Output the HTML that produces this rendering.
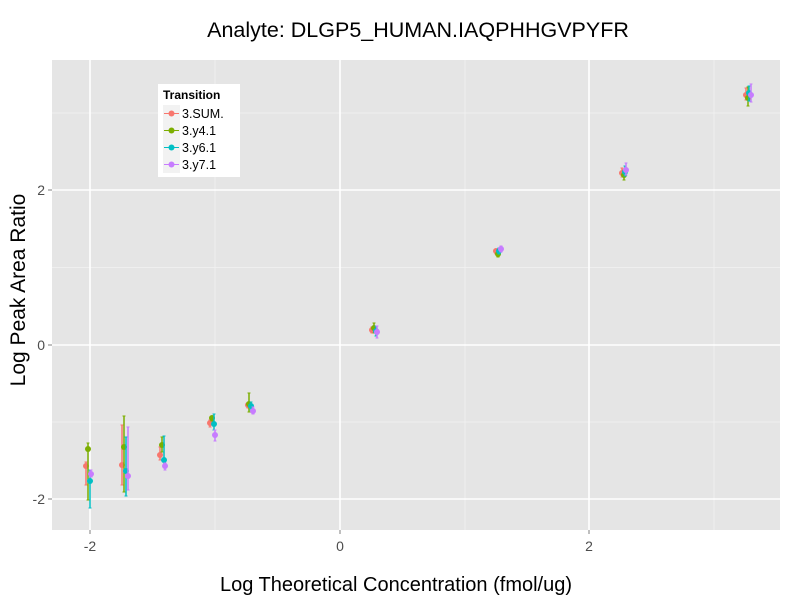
<!DOCTYPE html>
<html><head><meta charset="utf-8"><style>
body{margin:0;background:#fff;}
svg text{font-family:"Liberation Sans",sans-serif;}
</style></head><body>
<svg width="800" height="600" xmlns="http://www.w3.org/2000/svg" id="s">
<rect x="0" y="0" width="800" height="600" fill="#fff"/>
<rect x="52" y="60" width="728" height="470" fill="#e5e5e5"/>
<g stroke="#f2f2f2" stroke-width="0.8">
<line x1="215" y1="60" x2="215" y2="530"/><line x1="465" y1="60" x2="465" y2="530"/><line x1="714" y1="60" x2="714" y2="530"/>
<line x1="52" y1="113" x2="780" y2="113"/><line x1="52" y1="267.5" x2="780" y2="267.5"/><line x1="52" y1="422" x2="780" y2="422"/>
</g>
<g stroke="#fff" stroke-width="1.6">
<line x1="90" y1="60" x2="90" y2="530"/><line x1="340" y1="60" x2="340" y2="530"/><line x1="589" y1="60" x2="589" y2="530"/>
<line x1="52" y1="190" x2="780" y2="190"/><line x1="52" y1="345" x2="780" y2="345"/><line x1="52" y1="499" x2="780" y2="499"/>
</g>
<g stroke="#7f7f7f" stroke-width="1">
<line x1="90" y1="530" x2="90" y2="534"/><line x1="340" y1="530" x2="340" y2="534"/><line x1="589" y1="530" x2="589" y2="534"/>
<line x1="48" y1="190" x2="52" y2="190"/><line x1="48" y1="345" x2="52" y2="345"/><line x1="48" y1="499" x2="52" y2="499"/>
</g>
<g font-size="14" fill="#4d4d4d">
<text x="90" y="551" text-anchor="middle">-2</text><text x="340" y="551" text-anchor="middle">0</text><text x="589" y="551" text-anchor="middle">2</text>
<text x="45" y="195" text-anchor="end">2</text><text x="45" y="350" text-anchor="end">0</text><text x="45" y="504" text-anchor="end">-2</text>
</g>
<text x="418" y="37" font-size="21.5" text-anchor="middle" fill="#000">Analyte: DLGP5_HUMAN.IAQPHHGVPYFR</text>
<text x="396" y="591" font-size="20" text-anchor="middle" fill="#000">Log Theoretical Concentration (fmol/ug)</text>
<text transform="translate(25,290) rotate(-90)" font-size="21" text-anchor="middle" fill="#000">Log Peak Area Ratio</text>
<g id="d"></g>
<rect x="158" y="84" width="82" height="93" fill="#fff"/>
<text x="163" y="99" font-size="12" font-weight="bold">Transition</text>
<g font-size="12.5">
<rect x="163" y="105" width="17" height="17" fill="#f2f2f2"/><line x1="164" y1="113.5" x2="179" y2="113.5" stroke="#F8766D"/><circle cx="171.5" cy="113.5" r="3" fill="#F8766D"/><text x="182" y="118">3.SUM.</text>
<rect x="163" y="122" width="17" height="17" fill="#f2f2f2"/><line x1="164" y1="130.5" x2="179" y2="130.5" stroke="#7CAE00"/><circle cx="171.5" cy="130.5" r="3" fill="#7CAE00"/><text x="182" y="135">3.y4.1</text>
<rect x="163" y="139" width="17" height="17" fill="#f2f2f2"/><line x1="164" y1="147.5" x2="179" y2="147.5" stroke="#00BFC4"/><circle cx="171.5" cy="147.5" r="3" fill="#00BFC4"/><text x="182" y="152">3.y6.1</text>
<rect x="163" y="156" width="17" height="17" fill="#f2f2f2"/><line x1="164" y1="164.5" x2="179" y2="164.5" stroke="#C77CFF"/><circle cx="171.5" cy="164.5" r="3" fill="#C77CFF"/><text x="182" y="169">3.y7.1</text>
</g>
</svg>
<script>
var C=["#F8766D","#7CAE00","#00BFC4","#C77CFF"];
var D=[
[[86,466,462,485],[88,449,443,500],[90,481,470,508],[91,474,470,477]],
[[122,465,425,485],[124,447,416,492],[126,471,437,496],[128,476,427,490]],
[[160,455,447,460],[162,445,437,452],[164,460,436,465],[165,466,463,470]],
[[210,423,420,427],[212,418,416,421],[214,424,414,430],[215,435,430,441]],
[[248,405,403,408],[249,404,393,412],[251,406,402,410],[253,411,407,414]],
[[372,330,327,333],[374,328,323,333],[376,331,326,336],[377,332,326,338]],
[[496,251,249,254],[498,254,251,257],[499,251,248,254],[501,249,246,252]],
[[622,173,168,177],[624,175,170,180],[625,172,166,176],[626,170,163,175]],
[[746,95,88,100],[748,98,87,106],[749,93,86,101],[751,95,84,102]]];
var s="";
D.forEach(function(g){g.forEach(function(p,i){var c=C[i];
s+='<line x1="'+p[0]+'" y1="'+p[2]+'" x2="'+p[0]+'" y2="'+p[3]+'" stroke="'+c+'" stroke-width="1.5"/>';
s+='<line x1="'+(p[0]-1.5)+'" y1="'+p[2]+'" x2="'+(p[0]+1.5)+'" y2="'+p[2]+'" stroke="'+c+'"/>';
s+='<line x1="'+(p[0]-1.5)+'" y1="'+p[3]+'" x2="'+(p[0]+1.5)+'" y2="'+p[3]+'" stroke="'+c+'"/>';
s+='<circle cx="'+p[0]+'" cy="'+p[1]+'" r="3" fill="'+c+'"/>';});});
document.getElementById("d").innerHTML=s;
</script>
</body></html>
